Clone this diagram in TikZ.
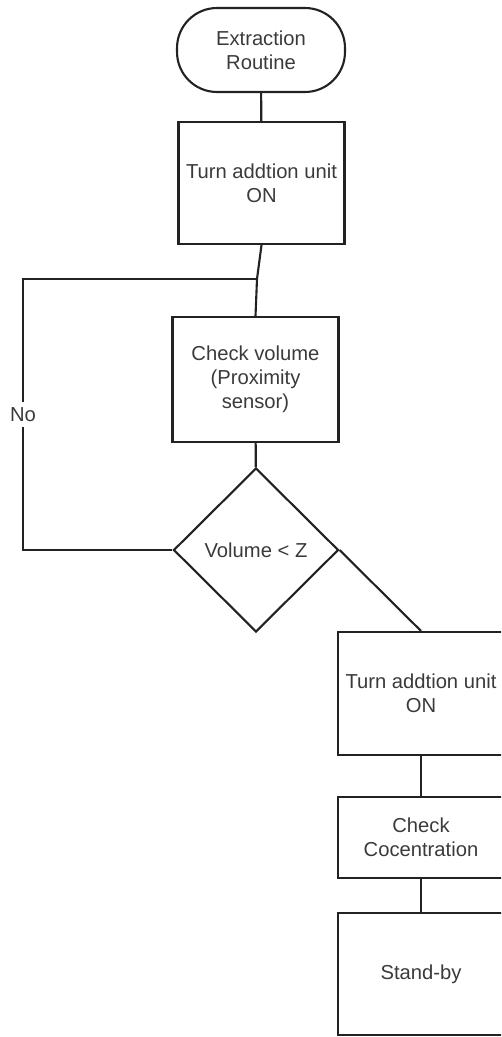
\documentclass[tikz,border=0pt]{standalone}
\usepackage{fontspec}
\setmainfont{Liberation Sans}
\usepackage{xcolor}
\usetikzlibrary{shapes.geometric}
\definecolor{LineGray}{RGB}{34,34,34}
\definecolor{TextGray}{RGB}{58,58,58}

\begin{document}
\begin{tikzpicture}[x=0.02cm,y=-0.02cm,color=LineGray,line width=1.2pt,
    every node/.style={text=TextGray,font=\fontsize{11.5}{13.6}\selectfont,
                       align=center,inner sep=0pt},
    box/.style={draw=LineGray,minimum width=3.32cm},
    term/.style={draw=LineGray,rounded corners=0.8cm,
                 minimum width=3.36cm,minimum height=1.68cm},
    decision/.style={draw=LineGray,diamond,aspect=1,
                     minimum width=3.3cm,minimum height=3.28cm}]
  \clip (0,0) rectangle (501,1037);
  \node[term] (start) at (261,50) {Extraction\\Routine};
  \node[box,minimum height=2.44cm] (unitOn) at (261.5,183) {Turn addtion unit\\ON};
  \node[box,minimum height=2.5cm] (volCheck) at (255.5,379.5) {Check volume\\(Proximity\\sensor)};
  \node[decision] (volDec) at (256,550) {Volume < Z};
  \node[box,minimum height=2.46cm] (unitOn2) at (421,693.5) {Turn addtion unit\\ON};
  \node[box,minimum height=1.62cm] (concCheck) at (421,837.5) {Check\\Cocentration};
  \node[box,minimum height=2.44cm] (standby) at (421,974) {Stand-by};

  \coordinate (join) at (257,279);
  \coordinate (loopTop) at (23,279);
  \coordinate (loopBot) at (23,550);

  \draw (start) -- (unitOn);
  \draw (unitOn.south) -- (join) -- (volCheck.north);
  \draw (volCheck) -- (volDec);
  \draw (volDec.west) -- (loopBot)
        -- node[fill=white,inner sep=3pt]{No} (loopTop) -- (join);
  \draw (volDec.east) -- (unitOn2.north);
  \draw (unitOn2) -- (concCheck);
  \draw (concCheck) -- (standby);
\end{tikzpicture}
\end{document}
